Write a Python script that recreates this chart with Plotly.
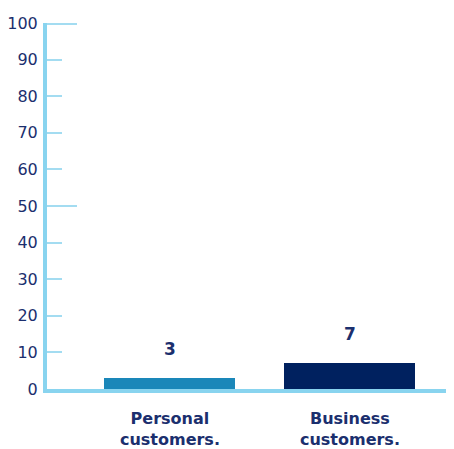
import plotly.graph_objects as go

categories = ["Personal<br>customers.", "Business<br>customers."]
values = [3, 7]
label_text = ["3", "7"]
bar_colors = ["#1a87b9", "#00215f"]
y_ticks = [0, 10, 20, 30, 40, 50, 60, 70, 80, 90, 100]
y_major = [50, 100]

x_pos = list(range(len(categories)))
text_color = "#1b2f6e"
font_family = "DejaVu Sans, sans-serif"

fig = go.Figure()
fig.add_trace(go.Bar(
    x=x_pos, y=values, marker=dict(color=bar_colors, line=dict(width=0)),
    width=0.728, showlegend=False, hoverinfo="skip",
))
# invisible trace on overlay axis for long ticks
fig.add_trace(go.Scatter(x=[0], y=[0], yaxis="y2", mode="markers",
                         marker=dict(opacity=0), showlegend=False, hoverinfo="skip"))

for xp, v, t in zip(x_pos, values, label_text):
    fig.add_annotation(x=xp, y=v, text="<b>" + t + "</b>", showarrow=False,
                       yshift=29, yanchor="middle",
                       font=dict(size=17, color=text_color, family=font_family))

fig.update_layout(
    width=446, height=441,
    margin=dict(l=39, r=0, t=15, b=60, autoexpand=False),
    plot_bgcolor="white", paper_bgcolor="white",
    bargap=0,
    xaxis=dict(
        range=[-0.683, 1.578], tickvals=x_pos,
        ticktext=["<b>" + c + "</b>" for c in categories],
        showgrid=False, zeroline=False, showline=True,
        linecolor="#89d4ef", linewidth=4, ticks="",
        tickfont=dict(size=16, color=text_color, family=font_family),
        ticklabelstandoff=12, automargin=False,
    ),
    yaxis=dict(
        range=[0, 100], tickvals=y_ticks, showgrid=False, zeroline=False,
        showline=True, linecolor="#89d4ef", linewidth=4,
        ticks="inside", ticklen=15, tickwidth=2, tickcolor="#a3dcf1",
        tickfont=dict(size=16, color=text_color, family=font_family),
        ticklabelstandoff=2, automargin=False,
    ),
    yaxis2=dict(
        range=[-0.3, 100.3], tickvals=y_major, overlaying="y", side="left",
        showgrid=False, zeroline=False, showline=False, showticklabels=False,
        ticks="inside", ticklen=30, tickwidth=2, tickcolor="#a3dcf1",
    ),
)

fig.write_html("out.html")
